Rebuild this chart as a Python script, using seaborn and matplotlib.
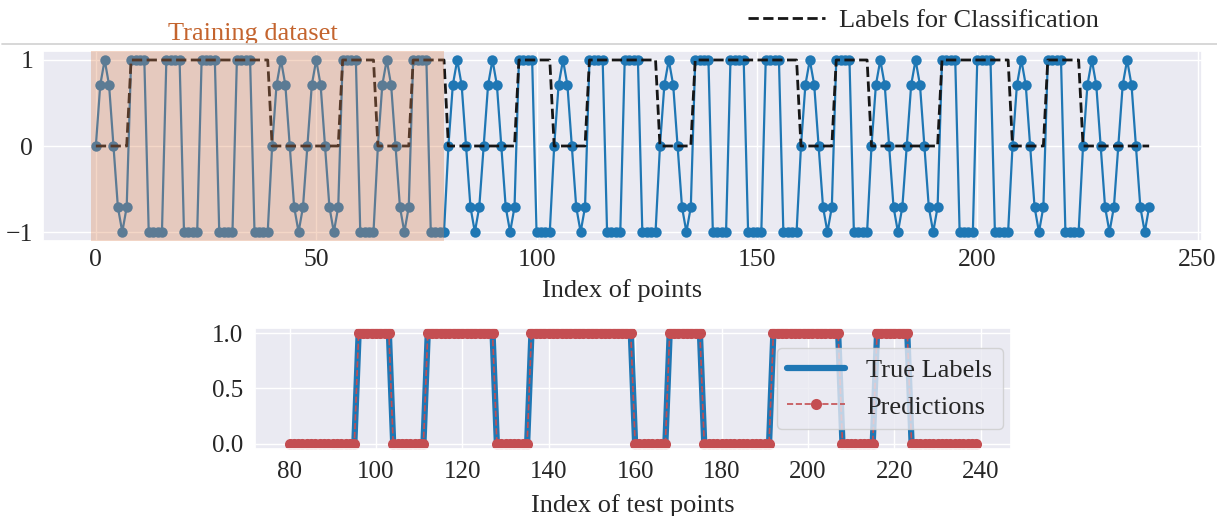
import numpy as np
import pandas as pd
import matplotlib
matplotlib.use("Agg")
import matplotlib.pyplot as plt
from matplotlib.lines import Line2D
import seaborn as sns

# Class label of each 8-point segment (0 = sine segment, 1 = square segment)
segment_labels = [0, 1, 1, 1, 1, 0, 0, 1, 0, 1,
                  0, 0, 1, 0, 1, 1, 0, 1, 1, 1,
                  0, 1, 0, 0, 1, 1, 0, 1, 0, 0]
# Sampled waveform of one segment for each class
sine_segment = [0.0, 0.71, 1.0, 0.71, 0.0, -0.71, -1.0, -0.71]
square_segment = [1.0, 1.0, 1.0, 1.0, -1.0, -1.0, -1.0, -1.0]
segment_len = 8
train_end = 80          # first test index
train_span = (-1, 79)   # shaded training region on the x axis

x_ticks_top = [0, 50, 100, 150, 200, 250]
y_ticks_top = [-1, 0, 1]
x_ticks_bottom = [80, 100, 120, 140, 160, 180, 200, 220, 240]
y_ticks_bottom = [0.0, 0.5, 1.0]

# Assemble the full point sequence from the segment templates
signal = np.concatenate([square_segment if c == 1 else sine_segment for c in segment_labels])
point_labels = np.repeat(segment_labels, segment_len)
index = np.arange(len(signal))
df = pd.DataFrame({"index": index, "value": signal, "label": point_labels})
test = df[df["index"] >= train_end]
predictions = test["label"].to_numpy()  # predicted labels on the test points

sns.set_theme(style="darkgrid")
plt.rcParams["font.family"] = ["Liberation Serif", "DejaVu Serif"]
plt.rcParams["axes.unicode_minus"] = True

fig = plt.figure(figsize=(12.17, 5.16), dpi=100)
ax1 = fig.add_axes([0.0353, 0.5337, 0.9524, 0.3667])
ax2 = fig.add_axes([0.2095, 0.1289, 0.6212, 0.2364])

blue = "#1f77b4"
red = "#c44e52"

# --- top panel: whole sequence with class labels ---
sns.lineplot(data=df, x="index", y="value", ax=ax1, color=blue, lw=1.6,
             marker="o", markersize=7.5, markeredgewidth=0)
sns.lineplot(data=df, x="index", y="label", ax=ax1, color="#161616", lw=2,
             linestyle="--")
ax1.axvspan(*train_span, color="#DD8452", alpha=0.32, lw=0, zorder=3)
ax1.set_xticks(x_ticks_top)
ax1.set_yticks(y_ticks_top)
ax1.set_xlim(-12, 251)
ax1.set_ylim(-1.1, 1.1)
ax1.tick_params(axis="both", labelsize=18.5, length=0)
ax1.tick_params(axis="x", pad=6)
ax1.tick_params(axis="y", pad=7)
ax1.set_xlabel("Index of points", fontsize=19, labelpad=6)
ax1.set_ylabel("")
ax1.text(35.6, 1.09, "Training dataset", color="#c4642e", fontsize=19,
         ha="center", va="center",
         transform=ax1.get_xaxis_transform())

label_handle = Line2D([], [], color="#161616", lw=2, linestyle="--")
fig.legend(handles=[label_handle], labels=["Labels for Classification"],
           loc="center", bbox_to_anchor=(0.759, 0.961),
           bbox_transform=fig.transFigure, frameon=False, fontsize=19,
           handlelength=2.9, handletextpad=0.55)
fig.add_artist(Line2D([0.002, 1.0], [0.9147, 0.9147], transform=fig.transFigure,
                      color="#d4d4d4", lw=1.3))

# --- bottom panel: true vs predicted labels on the test points ---
sns.lineplot(x=test["index"], y=test["label"], ax=ax2, color=blue, lw=4.5,
             label="True Labels")
sns.lineplot(x=test["index"], y=predictions, ax=ax2, color=red, lw=1.2,
             linestyle="--", marker="o", markersize=8, markeredgewidth=0,
             label="Predictions")
ax2.set_xticks(x_ticks_bottom)
ax2.set_yticks(y_ticks_bottom)
ax2.set_xlim(72, 247)
ax2.set_ylim(-0.05, 1.05)
ax2.tick_params(axis="both", labelsize=18, length=0)
ax2.tick_params(axis="x", pad=8.5)
ax2.tick_params(axis="y", pad=8.5)
ax2.set_xlabel("Index of test points", fontsize=19, labelpad=7.5)
ax2.set_ylabel("")
ax2.legend(loc="center right", fontsize=19, handlelength=2.2, borderaxespad=0.3)

fig.savefig("out.png", dpi=100)
